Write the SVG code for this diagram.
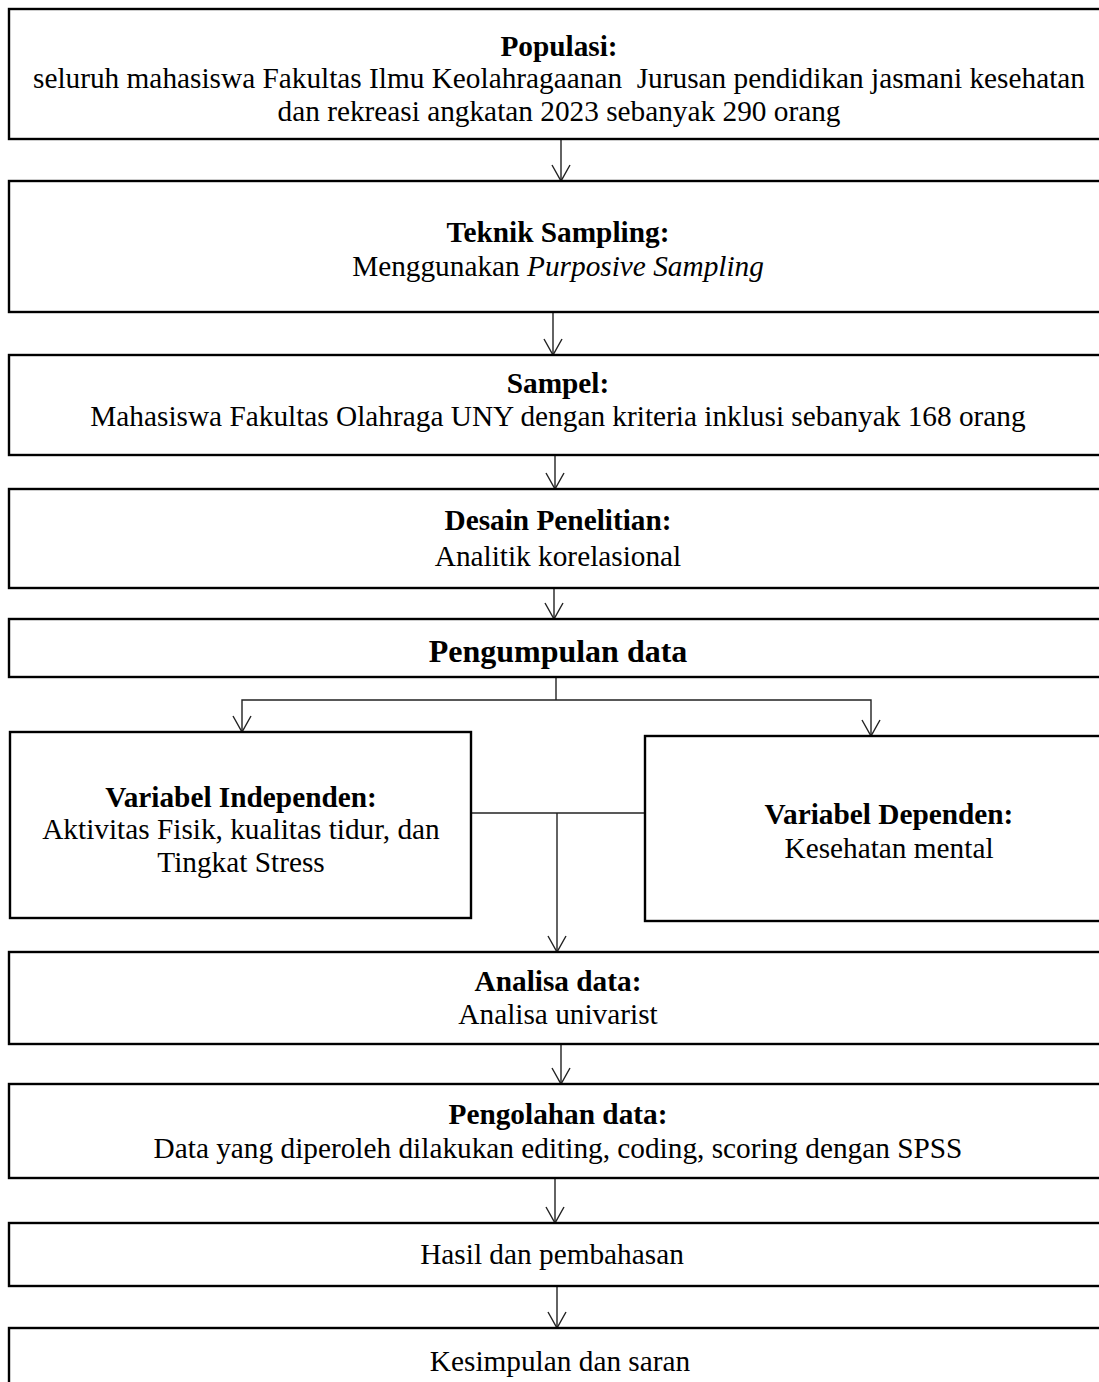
<svg xmlns="http://www.w3.org/2000/svg" width="1099" height="1382" viewBox="0 0 1099 1382">
<style>
.box{fill:#fff;stroke:#000;stroke-width:2.4}
.t{font-family:"Liberation Serif","Times New Roman",serif;font-size:29.3px;fill:#000;text-anchor:middle}
.b{font-weight:bold}
.c{fill:none;stroke:#222;stroke-width:1.4}
</style>
<defs>
<marker id="ah" viewBox="0 0 20 20" refX="18" refY="10" markerWidth="20" markerHeight="20" markerUnits="userSpaceOnUse" orient="auto">
<path d="M2,1 L18,10 L2,19" fill="none" stroke="#222" stroke-width="1.4"/>
</marker>
</defs>
<rect width="1099" height="1382" fill="#fff"/>
<g id="connectors">
<line class="c" x1="561" y1="139" x2="561" y2="181" marker-end="url(#ah)"/>
<line class="c" x1="553" y1="312" x2="553" y2="355" marker-end="url(#ah)"/>
<line class="c" x1="555" y1="455" x2="555" y2="489" marker-end="url(#ah)"/>
<line class="c" x1="554" y1="588" x2="554" y2="619" marker-end="url(#ah)"/>
<polyline class="c" points="556,677 556,700"/>
<polyline class="c" points="556,700 242,700 242,732" marker-end="url(#ah)"/>
<polyline class="c" points="556,700 871,700 871,736" marker-end="url(#ah)"/>
<line class="c" x1="471" y1="813" x2="645" y2="813"/>
<line class="c" x1="557" y1="813" x2="557" y2="952" marker-end="url(#ah)"/>
<line class="c" x1="561" y1="1044" x2="561" y2="1084" marker-end="url(#ah)"/>
<line class="c" x1="555" y1="1178" x2="555" y2="1223" marker-end="url(#ah)"/>
<line class="c" x1="557" y1="1286" x2="557" y2="1328" marker-end="url(#ah)"/>
</g>
<g id="populasi">
<rect class="box" x="9" y="9" width="1100" height="130"/>
<text class="t b" x="559" y="56">Populasi:</text>
<text class="t" x="559" y="88" xml:space="preserve">seluruh mahasiswa Fakultas Ilmu Keolahragaanan  Jurusan pendidikan jasmani kesehatan</text>
<text class="t" x="559" y="121">dan rekreasi angkatan 2023 sebanyak 290 orang</text>
</g>
<g id="teknik">
<rect class="box" x="9" y="181" width="1100" height="131"/>
<text class="t b" x="558" y="242">Teknik Sampling:</text>
<text class="t" x="558" y="276">Menggunakan <tspan font-style="italic">Purposive Sampling</tspan></text>
</g>
<g id="sampel">
<rect class="box" x="9" y="355" width="1100" height="100"/>
<text class="t b" x="558" y="393">Sampel:</text>
<text class="t" x="558" y="426">Mahasiswa Fakultas Olahraga UNY dengan kriteria inklusi sebanyak 168 orang</text>
</g>
<g id="desain">
<rect class="box" x="9" y="489" width="1100" height="99"/>
<text class="t b" x="558" y="530">Desain Penelitian:</text>
<text class="t" x="558" y="566">Analitik korelasional</text>
</g>
<g id="pengumpulan">
<rect class="box" x="9" y="619" width="1100" height="58"/>
<text class="t b" x="558" y="662" style="font-size:32px">Pengumpulan data</text>
</g>
<g id="independen">
<rect class="box" x="10" y="732" width="461" height="186"/>
<text class="t b" x="241" y="807">Variabel Independen:</text>
<text class="t" x="241" y="839">Aktivitas Fisik, kualitas tidur, dan</text>
<text class="t" x="241" y="872">Tingkat Stress</text>
</g>
<g id="dependen">
<rect class="box" x="645" y="736" width="488" height="185"/>
<text class="t b" x="889" y="824">Variabel Dependen:</text>
<text class="t" x="889" y="858">Kesehatan mental</text>
</g>
<g id="analisa">
<rect class="box" x="9" y="952" width="1100" height="92"/>
<text class="t b" x="558" y="991">Analisa data:</text>
<text class="t" x="558" y="1024">Analisa univarist</text>
</g>
<g id="pengolahan">
<rect class="box" x="9" y="1084" width="1100" height="94"/>
<text class="t b" x="558" y="1124">Pengolahan data:</text>
<text class="t" x="558" y="1158">Data yang diperoleh dilakukan editing, coding, scoring dengan SPSS</text>
</g>
<g id="hasil">
<rect class="box" x="9" y="1223" width="1100" height="63"/>
<text class="t" x="552" y="1264">Hasil dan pembahasan</text>
</g>
<g id="kesimpulan">
<rect class="box" x="9" y="1328" width="1100" height="80"/>
<text class="t" x="560" y="1371">Kesimpulan dan saran</text>
</g>
</svg>
